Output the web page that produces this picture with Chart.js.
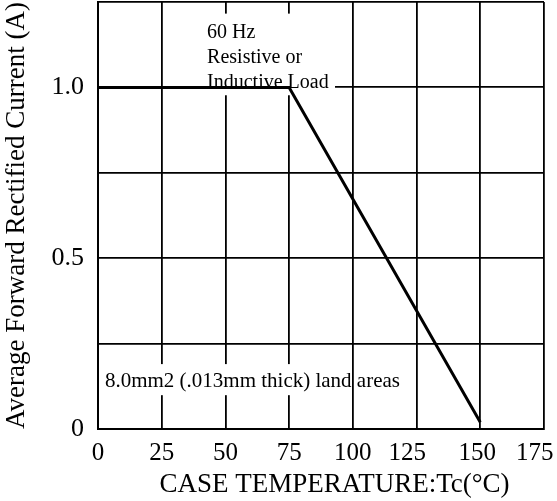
<!DOCTYPE html>
<html>
<head>
<meta charset="utf-8">
<script src="https://cdn.jsdelivr.net/npm/chart.js@4"></script>
<style>
  html, body { margin: 0; padding: 0; background: #fff; }
  #wrap { width: 557px; height: 501px; position: relative; }
</style>
</head>
<body>
<div id="wrap"><canvas id="c"></canvas></div>
<script>
// ---- data ----
const caseTemps = [0, 75, 150];              // °C
const forwardCurrent = [1.0, 1.0, 0.02];     // A
const xTickValues = [0, 25, 50, 75, 100, 125, 150, 175];
const yTickValues = [0, 0.25, 0.5, 0.75, 1, 1.25];
const yTickLabels = { 0: '0', 0.5: '0.5', 1: '1.0' };
const xTitle = 'CASE TEMPERATURE:Tc(°C)';
const yTitle = 'Average Forward Rectified Current (A)';
const noteTop = ['60 Hz', 'Resistive or', 'Inductive Load'];
const noteBottom = '8.0mm2 (.013mm thick) land areas';

const points = caseTemps.map((t, i) => ({ x: t, y: forwardCurrent[i] }));
const SERIF = '"Liberation Serif", "DejaVu Serif", serif';
const NB = '\u00a0';
// small visual nudges of some x tick labels (number of trailing no-break spaces)
const xLabelNudge = { 125: 3, 150: 1, 175: 3 };

const notesPlugin = {
  id: 'notes',
  beforeDatasetsDraw(chart) {
    const { ctx, scales: { x, y } } = chart;
    ctx.save();
    ctx.font = '20px ' + SERIF;
    ctx.textBaseline = 'alphabetic';
    ctx.textAlign = 'left';
    // top note box
    let x0 = x.getPixelForValue(41.2), x1 = x.getPixelForValue(93);
    let y0 = y.getPixelForValue(1.216), y1 = y.getPixelForValue(0.977);
    ctx.fillStyle = '#fff';
    ctx.fillRect(x0, y0, x1 - x0, y1 - y0);
    ctx.fillStyle = '#000';
    const tx = x.getPixelForValue(42.8);
    const by = y.getPixelForValue(1.146);
    noteTop.forEach((s, i) => ctx.fillText(s, tx, by + i * 25));
    // bottom note box
    ctx.font = '21px ' + SERIF;
    x0 = x.getPixelForValue(0.8); x1 = x.getPixelForValue(98.9);
    y0 = y.getPixelForValue(0.19); y1 = y.getPixelForValue(0.099);
    ctx.fillStyle = '#fff';
    ctx.fillRect(x0, y0, x1 - x0, y1 - y0);
    ctx.fillStyle = '#000';
    ctx.fillText(noteBottom, x.getPixelForValue(2.7), y.getPixelForValue(0.123));
    ctx.restore();
  }
};

new Chart(document.getElementById('c'), {
  type: 'line',
  data: {
    datasets: [{
      data: points,
      borderColor: '#000',
      borderWidth: 3,
      pointRadius: 0,
      tension: 0,
      fill: false
    }]
  },
  options: {
    responsive: true,
    maintainAspectRatio: false,
    animation: false,
    layout: { padding: 0 },
    plugins: { legend: { display: false }, tooltip: { enabled: false } },
    scales: {
      x: {
        type: 'linear',
        min: 0, max: 175,
        afterBuildTicks(scale) { scale.ticks = xTickValues.map(v => ({ value: v })); },
        afterFit(scale) { scale.height = 72; scale.paddingLeft = 0; scale.paddingRight = 13; },
        grid: { color: '#000', lineWidth: 1.8, drawTicks: false },
        border: { color: '#000', width: 2 },
        ticks: {
          color: '#000', font: { family: SERIF, size: 25 }, padding: 9, maxRotation: 0, autoSkip: false,
          callback: v => String(v) + NB.repeat(xLabelNudge[v] || 0)
        },
        title: { display: true, text: NB.repeat(4) + xTitle, color: '#000', font: { family: SERIF, size: 27 }, padding: { top: 0, bottom: 0 } }
      },
      y: {
        type: 'linear',
        min: 0, max: 1.25,
        afterBuildTicks(scale) { scale.ticks = yTickValues.map(v => ({ value: v })); },
        afterFit(scale) { scale.width = 98; scale.paddingTop = 2; scale.paddingBottom = 0; },
        grid: { color: '#000', lineWidth: 1.8, drawTicks: false },
        border: { color: '#000', width: 2 },
        ticks: {
          color: '#000', font: { family: SERIF, size: 26 }, padding: 14, autoSkip: false,
          callback: v => (yTickLabels[v] !== undefined ? yTickLabels[v] : '')
        },
        title: { display: true, text: yTitle, color: '#000', font: { family: SERIF, size: 27 }, padding: { top: 1, bottom: 0 } }
      }
    }
  },
  plugins: [notesPlugin]
});
</script>
</body>
</html>
